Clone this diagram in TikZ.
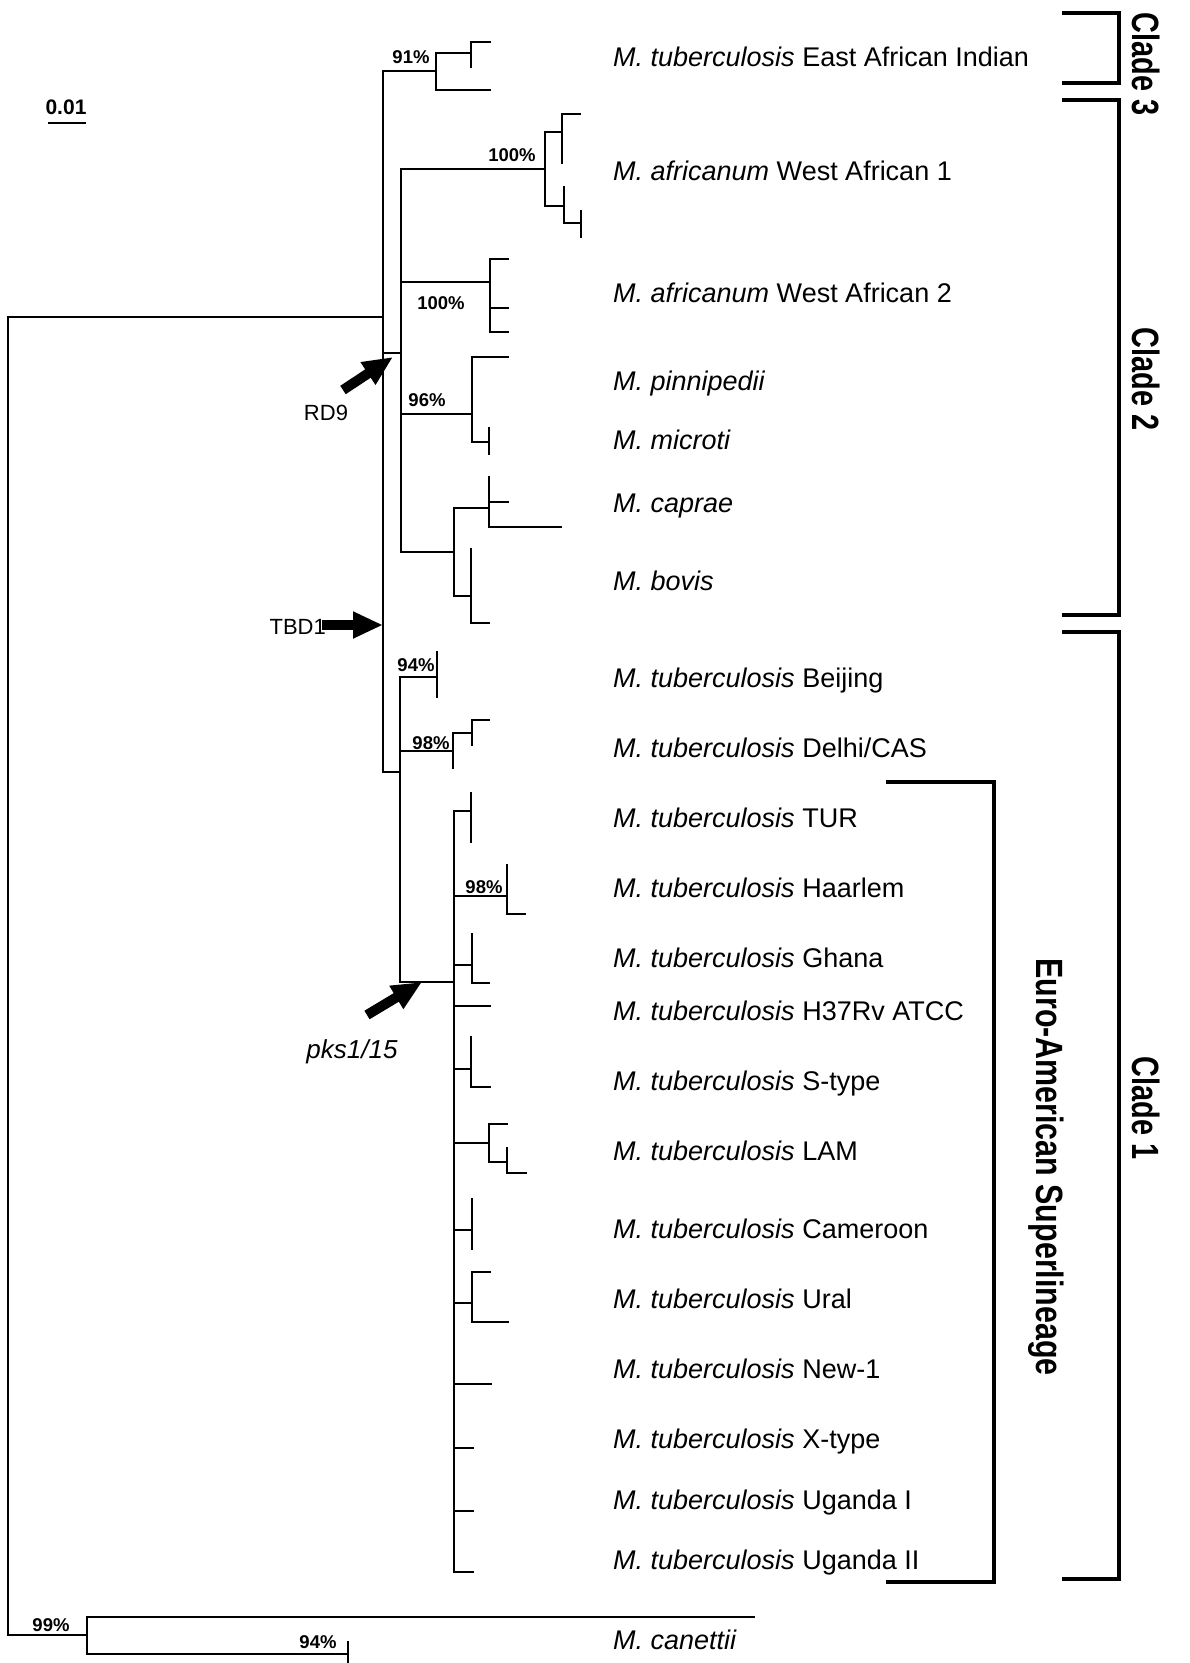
\documentclass[tikz,border=0pt]{standalone}
\usepackage{fontspec}
\setmainfont{Liberation Sans}
\usetikzlibrary{arrows.meta}
\begin{document}
\begin{tikzpicture}[x=1pt,y=-1pt,
  tree/.style={line width=2pt, line cap=rect},
  brk/.style={line width=4pt, line join=miter},
  lab/.style={anchor=base west, inner sep=0pt, font=\fontsize{27}{30}\selectfont},
  pct/.style={inner sep=0pt, font=\fontsize{18.5}{20}\selectfont\bfseries},
  cl/.style={rotate=-90, inner sep=0pt, font=\fontsize{38}{40}\selectfont\bfseries},
  marker/.style={inner sep=0pt, font=\fontsize{22}{24}\selectfont},
  bigarrow/.style={line width=10pt, -{Triangle[length=30pt,width=25pt]}}
]
\useasboundingbox (0,0) rectangle (1190,1663);
% named internal nodes
\coordinate (root) at (8,317);
\coordinate (spine) at (383,71);
\coordinate (rd9) at (383,353);
\coordinate (tbd1) at (383,625);
\coordinate (pks) at (422,982);

% root
\draw[tree] (383,317) -- (8,317) -- (8,1635) -- (87,1635);
% main spine
\draw[tree] (383,71) -- (383,772);
% East African Indian
\draw[tree] (383,71) -- (436,71) (436,53) -- (436,90) -- (490,90)
  (436,53) -- (471,53) (471,42) -- (471,67) (471,42) -- (490,42);
% RD9 link and clade 2 spine
\draw[tree] (383,353) -- (401,353) (401,169) -- (401,552);
% West African 1
\draw[tree] (401,169) -- (545,169) (545,132) -- (545,206)
  (545,132) -- (562,132) (562,114) -- (562,163) (562,114) -- (580,114)
  (545,206) -- (564,206) (564,187) -- (564,223) -- (581,223) (581,211) -- (581,237);
% West African 2
\draw[tree] (401,282) -- (490,282) (490,259) -- (490,332)
  (490,259) -- (508,259) (490,308) -- (508,308) (490,332) -- (508,332);
% pinnipedii / microti
\draw[tree] (401,414) -- (472,414) (472,357) -- (472,442)
  (472,357) -- (508,357) (472,442) -- (489,442) (489,428) -- (489,454);
% caprae / bovis
\draw[tree] (401,552) -- (454,552) (454,508) -- (454,596)
  (454,508) -- (489,508) (489,477) -- (489,527) (489,502) -- (508,502) (489,527) -- (561,527)
  (454,596) -- (471,596) (471,549) -- (471,623) -- (489,623);
% clade 1
\draw[tree] (383,772) -- (400,772) (400,677) -- (400,982);
\draw[tree] (400,677) -- (437,677) (437,652) -- (437,697);
\draw[tree] (400,751) -- (453,751) (453,733) -- (453,768)
  (453,733) -- (472,733) (472,720) -- (472,745) (472,720) -- (489,720);
% Euro-American
\draw[tree] (400,982) -- (454,982) (454,811) -- (454,1572);
\draw[tree] (454,811) -- (471,811) (471,793) -- (471,842);
\draw[tree] (454,896) -- (507,896) (507,865) -- (507,914) -- (525,914);
\draw[tree] (454,965) -- (472,965) (472,934) -- (472,983) -- (489,983);
\draw[tree] (454,1006) -- (490,1006);
\draw[tree] (454,1069) -- (471,1069) (471,1037) -- (471,1087) -- (490,1087);
\draw[tree] (454,1143) -- (489,1143) (489,1124) -- (489,1162)
  (489,1124) -- (507,1124) (489,1162) -- (507,1162) (507,1148) -- (507,1173) -- (526,1173);
\draw[tree] (454,1230) -- (472,1230) (472,1199) -- (472,1249);
\draw[tree] (454,1303) -- (472,1303) (472,1272) -- (472,1322)
  (472,1272) -- (490,1272) (472,1322) -- (508,1322);
\draw[tree] (454,1384) -- (491,1384);
\draw[tree] (454,1448) -- (473,1448);
\draw[tree] (454,1511) -- (473,1511);
\draw[tree] (454,1572) -- (473,1572);
% canettii
\draw[tree] (87,1617) -- (87,1654) (87,1617) -- (754,1617)
  (87,1654) -- (348,1654) (348,1642) -- (348,1666);

% scale bar
\node[pct, font=\fontsize{21}{22}\selectfont\bfseries] (scale) at (66,107) {0.01};
\draw[line width=2pt] (48,123) -- (86,123);

% percentages
\node[pct] (p91) at (411,57) {91\%};
\node[pct] (p100a) at (512,155) {100\%};
\node[pct] (p100b) at (441,303) {100\%};
\node[pct] (p96) at (427,400) {96\%};
\node[pct] (p94a) at (416,665) {94\%};
\node[pct] (p98a) at (431,743) {98\%};
\node[pct] (p98b) at (484,887) {98\%};
\node[pct] (p99) at (51,1625) {99\%};
\node[pct] (p94b) at (318,1642) {94\%};

% markers
\node[marker] (rd9lab) at (326,413) {RD9};
\node[marker, anchor=east] (tbdlab) at (326,627) {TBD1};
\node[marker, font=\fontsize{26}{28}\selectfont\itshape] (pkslab) at (352,1052) {pks1/15};
\coordinate (rd9tail) at (343,390);
\coordinate (tbdtail) at (322,625);
\coordinate (pkstail) at (367,1015);
\draw[bigarrow] (rd9tail) -- (393,357);
\draw[bigarrow] (tbdtail) -- (tbd1);
\draw[bigarrow] (pkstail) -- (pks);

% taxa
\node[lab] (t1) at (613,66) {\textit{M. tuberculosis} East African Indian};
\node[lab] (t2) at (613,180) {\textit{M. africanum} West African 1};
\node[lab] (t3) at (613,302) {\textit{M. africanum} West African 2};
\node[lab] (t4) at (613,390) {\textit{M. pinnipedii}};
\node[lab] (t5) at (613,449) {\textit{M. microti}};
\node[lab] (t6) at (613,512) {\textit{M. caprae}};
\node[lab] (t7) at (613,590) {\textit{M. bovis}};
\node[lab] (t8) at (613,687) {\textit{M. tuberculosis} Beijing};
\node[lab] (t9) at (613,757) {\textit{M. tuberculosis} Delhi/CAS};
\node[lab] (t10) at (613,827) {\textit{M. tuberculosis} TUR};
\node[lab] (t11) at (613,897) {\textit{M. tuberculosis} Haarlem};
\node[lab] (t12) at (613,967) {\textit{M. tuberculosis} Ghana};
\node[lab] (t13) at (613,1020) {\textit{M. tuberculosis} H37Rv ATCC};
\node[lab] (t14) at (613,1090) {\textit{M. tuberculosis} S-type};
\node[lab] (t15) at (613,1160) {\textit{M. tuberculosis} LAM};
\node[lab] (t16) at (613,1238) {\textit{M. tuberculosis} Cameroon};
\node[lab] (t17) at (613,1308) {\textit{M. tuberculosis} Ural};
\node[lab] (t18) at (613,1378) {\textit{M. tuberculosis} New-1};
\node[lab] (t19) at (613,1448) {\textit{M. tuberculosis} X-type};
\node[lab] (t20) at (613,1509) {\textit{M. tuberculosis} Uganda I};
\node[lab] (t21) at (613,1569) {\textit{M. tuberculosis} Uganda II};
\node[lab] (t22) at (613,1649) {\textit{M. canettii}};

% brackets
\draw[brk] (1062,13) -- (1119,13) -- (1119,83) -- (1062,83);
\draw[brk] (1062,100) -- (1119,100) -- (1119,615) -- (1062,615);
\draw[brk] (1062,632) -- (1119,632) -- (1119,1579) -- (1062,1579);
\draw[brk] (886,782) -- (994,782) -- (994,1582) -- (886,1582);

\node[cl] (c3) at (1146,64) {\scalebox{0.76}[1]{Clade 3}};
\node[cl] (c2) at (1146,379) {\scalebox{0.76}[1]{Clade 2}};
\node[cl] (c1) at (1146,1108) {\scalebox{0.76}[1]{Clade 1}};
\node[cl] (ea) at (1046,1167) {\scalebox{0.8}[1]{Euro-American Superlineage}};
\end{tikzpicture}
\end{document}
